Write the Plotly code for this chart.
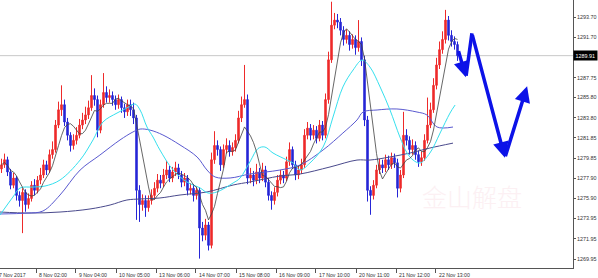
import plotly.graph_objects as go
import pandas as pd

# ---------------- data ----------------
closes = [
    1279.2, 1279.7, 1278.5, 1277.2, 1277.9, 1276.2, 1275.7, 1276.5, 1275.3, 1275.9,
    1277.2, 1276.7, 1277.7, 1278.2, 1279.2, 1278.7, 1280.2, 1280.7, 1283.1, 1284.6,
    1285.1, 1283.4, 1282.1, 1281.1, 1281.6, 1282.1, 1283.1, 1283.6, 1284.1, 1284.8,
    1286.0, 1285.6, 1282.6, 1285.1, 1286.3, 1285.8, 1286.0, 1285.6, 1285.1, 1285.6,
    1284.8, 1284.4, 1285.1, 1284.6, 1283.8, 1276.7, 1275.3, 1275.7, 1275.0, 1275.7,
    1276.2, 1276.9, 1277.7, 1277.4, 1278.2, 1278.7, 1277.9, 1278.5, 1278.9, 1278.2,
    1277.5, 1277.9, 1276.7, 1276.9, 1276.2, 1276.7, 1273.0, 1272.3, 1273.3, 1271.3,
    1279.7, 1281.1, 1280.7, 1279.2, 1280.7, 1281.1, 1280.5, 1280.9, 1281.6, 1283.8,
    1285.1, 1285.6, 1277.9, 1278.2, 1277.7, 1278.5, 1277.9, 1278.7, 1277.5, 1276.2,
    1275.7, 1276.5, 1277.7, 1278.2, 1277.9, 1279.5, 1280.7, 1279.2, 1278.2, 1278.7,
    1279.2, 1282.1, 1282.8, 1282.1, 1282.6, 1281.8, 1283.1, 1282.1, 1285.6, 1289.5,
    1292.9, 1293.4, 1293.2, 1292.4, 1291.5, 1291.9, 1291.0, 1291.5, 1290.7, 1291.3,
    1289.5, 1283.6, 1276.7, 1276.2, 1277.2, 1278.7, 1279.2, 1278.9, 1279.7, 1279.2,
    1279.9, 1279.4, 1276.9, 1278.2, 1282.1, 1281.6, 1280.7, 1281.1, 1280.2, 1279.5,
    1279.9, 1281.6, 1283.1, 1284.6, 1287.0, 1289.0, 1290.5, 1291.5, 1293.4, 1291.9,
    1291.3, 1291.0, 1289.91]

highs = [
    1279.8, 1280.3, 1280.0, 1278.8, 1278.4, 1278.1, 1276.6, 1276.9, 1276.8, 1276.4,
    1277.6, 1277.8, 1278.1, 1278.9, 1279.7, 1279.6, 1280.7, 1281.5, 1283.6, 1285.4,
    1287.0, 1285.6, 1283.8, 1282.4, 1282.2, 1282.9, 1283.7, 1284.3, 1284.9, 1285.5,
    1288.0, 1286.7, 1286.0, 1285.6, 1288.2, 1286.9, 1286.6, 1286.4, 1286.0, 1286.1,
    1285.9, 1285.2, 1285.6, 1285.6, 1285.3, 1284.1, 1277.2, 1276.3, 1276.2, 1276.2,
    1276.8, 1277.5, 1278.3, 1278.2, 1278.8, 1279.6, 1279.1, 1279.0, 1279.5, 1279.3,
    1278.6, 1278.4, 1278.2, 1277.4, 1277.3, 1277.1, 1277.0, 1273.6, 1273.9, 1273.6,
    1280.4, 1282.5, 1281.6, 1281.0, 1281.2, 1281.8, 1281.6, 1281.4, 1282.2, 1284.5,
    1285.9, 1289.0, 1286.1, 1278.9, 1278.6, 1279.3, 1278.9, 1279.4, 1279.1, 1277.9,
    1276.6, 1277.0, 1278.2, 1278.7, 1278.6, 1280.0, 1281.4, 1281.0, 1279.6, 1279.1,
    1279.8, 1282.7, 1283.4, 1283.2, 1283.1, 1283.0, 1283.6, 1283.5, 1286.2, 1290.3,
    1295.2, 1294.1, 1294.0, 1293.6, 1292.8, 1292.5, 1292.3, 1292.0, 1291.9, 1293.4,
    1291.7, 1289.9, 1284.0, 1277.1, 1277.7, 1279.2, 1279.8, 1279.7, 1280.2, 1280.1,
    1280.4, 1280.3, 1279.8, 1278.7, 1284.4, 1282.7, 1282.0, 1281.7, 1281.5, 1280.6,
    1280.5, 1282.2, 1285.8, 1285.3, 1287.7, 1289.7, 1291.3, 1292.3, 1294.4, 1293.8,
    1292.4, 1291.8, 1291.3]

lows = [
    1278.4, 1278.9, 1278.1, 1276.8, 1276.9, 1275.7, 1275.1, 1272.5, 1274.6, 1274.9,
    1275.6, 1276.2, 1276.4, 1277.3, 1277.9, 1278.2, 1278.4, 1279.8, 1280.4, 1282.8,
    1284.0, 1283.0, 1281.6, 1280.5, 1280.7, 1281.2, 1281.8, 1282.7, 1283.2, 1283.7,
    1284.5, 1285.0, 1281.9, 1282.3, 1284.8, 1285.3, 1285.3, 1285.0, 1284.6, 1284.7,
    1284.3, 1283.8, 1284.0, 1284.0, 1283.2, 1273.8, 1273.6, 1274.7, 1274.1, 1274.6,
    1275.3, 1275.8, 1276.5, 1276.9, 1277.0, 1277.8, 1277.5, 1277.5, 1278.1, 1277.8,
    1277.0, 1277.1, 1276.2, 1276.3, 1275.6, 1275.8, 1270.0, 1271.7, 1271.8, 1270.8,
    1271.0, 1279.3, 1280.1, 1278.6, 1278.9, 1280.3, 1280.0, 1280.1, 1280.5, 1281.3,
    1283.4, 1284.8, 1277.3, 1277.4, 1277.1, 1277.3, 1277.4, 1277.6, 1277.0, 1275.7,
    1274.8, 1275.3, 1276.1, 1277.3, 1277.4, 1277.6, 1279.1, 1278.8, 1277.7, 1277.8,
    1278.3, 1278.9, 1281.7, 1281.6, 1281.7, 1281.3, 1281.5, 1281.6, 1281.8, 1285.2,
    1289.2, 1292.5, 1292.6, 1291.9, 1290.9, 1291.1, 1290.4, 1290.6, 1290.0, 1290.3,
    1288.9, 1283.0, 1275.6, 1274.3, 1275.8, 1276.9, 1278.3, 1278.4, 1278.5, 1278.7,
    1278.8, 1278.9, 1276.0, 1276.5, 1277.9, 1281.1, 1280.2, 1280.2, 1279.7, 1279.0,
    1279.1, 1279.6, 1281.3, 1282.8, 1284.3, 1286.6, 1288.6, 1290.1, 1291.1, 1291.4,
    1290.8, 1290.5, 1289.4]

first_open = 1278.8

# moving-average lines (bar position, price)
cyan_x = [-0.5, 3.8, 6.2, 10.5, 14.5, 19.5, 26.2, 30.5, 33.8, 38.5, 41.8, 44.5, 46.2,
          48.5, 50.5, 52.8, 57.2, 61.8, 66.2, 68.8, 71.8, 77.2, 79.5, 83.0, 85.5, 87.8, 90.5,
          95.2, 97.2, 99.5, 102.8, 107.2, 110.5, 113.8, 117.2, 120.2, 122.8, 126.2, 129.5,
          132.8, 135.2, 137.2, 139.5, 142.8, 146.2, 149.5, 151.2]
cyan_y = [1274.28, 1276.04, 1276.93, 1277.02, 1277.12, 1277.71, 1279.67, 1281.64,
          1283.40, 1284.28, 1284.78, 1285.17, 1284.58, 1282.91, 1281.93, 1280.66, 1278.69,
          1277.52, 1276.93, 1276.44, 1276.54, 1277.42, 1277.9, 1279.6, 1280.8, 1280.95,
          1280.36, 1279.67, 1279.38, 1278.69, 1279.38, 1280.95, 1283.89, 1286.84, 1288.50,
          1289.48, 1288.80, 1286.84, 1284.58, 1281.93, 1280.36, 1279.67, 1279.38, 1280.36,
          1282.32, 1284.28, 1285.07]

blue_x = [-0.5, 8.5, 13.8, 19.5, 26.2, 32.8, 39.5, 43.8, 46.2, 49.5, 53.8, 59.5, 65.2,
          68.5, 71.2, 76.2, 82.8, 92.8, 99.5, 107.2, 113.8, 118.5, 120.5, 125.2, 131.8,
          138.5, 141.8, 145.2, 150.5]
blue_y = [1274.38, 1274.47, 1274.67, 1276.24, 1278.69, 1280.16, 1281.64, 1282.42, 1282.71,
          1282.61, 1282.13, 1281.15, 1279.97, 1278.69, 1278.01, 1277.91, 1278.30, 1278.69,
          1279.18, 1280.66, 1282.32, 1283.60, 1284.38, 1284.58, 1284.68, 1284.38, 1284.09,
          1282.91, 1282.91]

slate_x = [-0.5, 9.5, 19.5, 29.5, 36.2, 41.8, 46.2, 52.8, 59.5, 68.5, 77.2, 82.8, 92.8,
           99.5, 109.5, 118.5, 122.8, 129.5, 136.2, 142.8, 150.5]
slate_y = [1274.57, 1274.47, 1274.57, 1274.87, 1275.26, 1275.75, 1275.85, 1275.95, 1276.24,
           1276.54, 1277.22, 1277.52, 1278.10, 1278.30, 1278.99, 1279.67, 1279.67, 1279.97,
           1280.36, 1280.85, 1281.33]

# price axis labels
ytick_vals = [1293.70, 1291.70, 1287.75, 1285.80, 1283.80, 1281.85, 1279.85,
              1277.90, 1275.90, 1273.95, 1271.95, 1269.95]

# time axis labels and the bars they sit on
time_labels = ["7 Nov 2017", "8 Nov 02:00", "9 Nov 04:00", "10 Nov 05:00", "13 Nov 06:00",
               "14 Nov 07:00", "15 Nov 08:00", "16 Nov 09:00", "17 Nov 10:00",
               "20 Nov 11:00", "21 Nov 12:00", "22 Nov 13:00"]
time_bars = [-1.8, 11.5, 24.8, 38.2, 51.5, 64.8, 78.2, 91.5, 104.8, 118.2, 131.5, 144.8]

# hand-drawn forecast arrow (bar position, price) and which segments get heads
arrow_x = [152.2, 154.8, 156.8, 167.8, 175.2]
arrow_y = [1290.5, 1287.8, 1292.1, 1279.9, 1286.9]
arrow_heads = [True, False, True, True]

watermark = "金山解盘"

# ---------------- figure ----------------
bars = list(range(len(closes)))
opens = [first_open] + closes[:-1]
fast_ma = pd.Series(closes).rolling(6, min_periods=1).mean()

X_RANGE = [-0.5, 190.5]
Y_RANGE = [1269.08, 1295.37]

fig = go.Figure()

fig.add_trace(go.Scatter(x=slate_x, y=slate_y, mode="lines",
                         line=dict(color="#4a4a8c", width=1, shape="spline"), hoverinfo="skip"))
fig.add_trace(go.Scatter(x=blue_x, y=blue_y, mode="lines",
                         line=dict(color="#5a5ad0", width=1, shape="spline"), hoverinfo="skip"))
fig.add_trace(go.Scatter(x=cyan_x, y=cyan_y, mode="lines",
                         line=dict(color="#35e0ee", width=1, shape="spline"), hoverinfo="skip"))

fig.add_trace(go.Candlestick(
    x=bars, open=opens, high=highs, low=lows, close=closes,
    increasing=dict(line=dict(color="#ee2a2a", width=1), fillcolor="#ee2a2a"),
    decreasing=dict(line=dict(color="#2626d6", width=1), fillcolor="#2626d6"),
    whiskerwidth=0, hoverinfo="skip"))

fig.add_trace(go.Scatter(x=bars, y=fast_ma, mode="lines",
                         line=dict(color="#404040", width=0.8), hoverinfo="skip"))

# current price line
fig.add_shape(type="line", xref="paper", x0=0, x1=1, yref="y",
              y0=closes[-1], y1=closes[-1], line=dict(color="#c8c8c8", width=1), layer="below")

annotations = []
# current price box
annotations.append(dict(xref="paper", x=1, xanchor="left", yref="y", y=closes[-1],
                        text=f"{closes[-1]:.2f}", showarrow=False,
                        font=dict(family="Liberation Sans", size=5.4, color="white"),
                        bgcolor="black", borderpad=1.5, xshift=0))
# time labels (left-aligned after their tick)
span = X_RANGE[1] - X_RANGE[0]
for lab, tb in zip(time_labels, time_bars):
    annotations.append(dict(xref="paper", x=(tb - X_RANGE[0]) / span, xanchor="left",
                            yref="paper", y=0, yanchor="top", yshift=-1.5, xshift=1,
                            text=lab, showarrow=False,
                            font=dict(family="Liberation Sans", size=5.2, color="#333333")))
# watermark
annotations.append(dict(xref="x", x=156.8, yref="y", y=1276.1, text=watermark,
                        showarrow=False,
                        font=dict(family="Noto Sans CJK SC", size=25, color="#fcf0f3",
                                  weight=300)))
# forecast arrows
for k in range(len(arrow_x) - 1):
    annotations.append(dict(xref="x", yref="y", axref="x", ayref="y",
                            x=arrow_x[k + 1], y=arrow_y[k + 1],
                            ax=arrow_x[k], ay=arrow_y[k], text="",
                            showarrow=True, arrowhead=2 if arrow_heads[k] else 0,
                            arrowsize=0.9, arrowwidth=3.5, arrowcolor="#0c12e8",
                            standoff=0, startstandoff=0))

fig.update_layout(
    width=598, height=278, autosize=False,
    margin=dict(l=0, r=25, t=0, b=10),
    paper_bgcolor="white", plot_bgcolor="white",
    showlegend=False,
    annotations=annotations,
    xaxis=dict(range=X_RANGE, rangeslider=dict(visible=False), showgrid=False,
               zeroline=False, showline=True, linecolor="#555555", linewidth=1,
               tickmode="array", tickvals=time_bars, ticks="outside", ticklen=4,
               tickcolor="#555555", showticklabels=False),
    yaxis=dict(range=Y_RANGE, side="right", showgrid=False, zeroline=False,
               showline=True, linecolor="#555555", linewidth=1,
               tickmode="array", tickvals=ytick_vals,
               ticktext=[f"{v:.2f}" for v in ytick_vals],
               ticks="outside", ticklen=2, tickcolor="#555555",
               tickfont=dict(family="Liberation Sans", size=5.4, color="#333333")),
)

fig.write_html("out.html")
